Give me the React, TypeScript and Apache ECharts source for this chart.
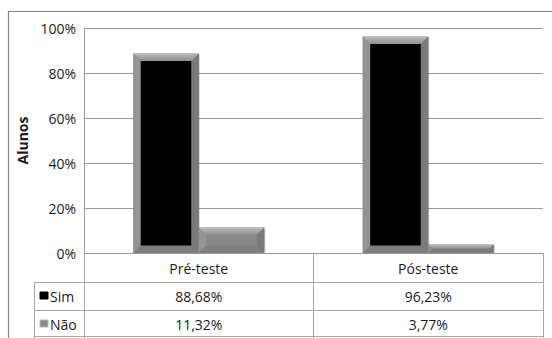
import React, { useEffect, useRef } from "react";
import * as echarts from "echarts";

// Share of students answering "Sim" / "Não", before and after the test
const categories = ["Pré-teste", "Pós-teste"];
const seriesNames = ["Sim", "Não"];
const simValues = [88.68, 96.23];
const naoValues = [11.32, 3.77];
const yMax = 100;
const yInterval = 20;
const axisTitle = "Alunos";

const FONT = "'Open Sans', 'Noto Sans', sans-serif";
const TEXT = "#1c1c1c";
const GRID_LINE = "#9a9a9a";
const TABLE_LINE = "#a8a8a8";

// plot box (px)
const GRID_LEFT = 84;
const GRID_TOP = 28;
const GRID_W = 459;
const GRID_H = 225;
const TABLE_LEFT = 34;
const ROW_H = 28;

const pct = (v: number) => v.toFixed(2).replace(".", ",") + "%";

// bevelled bar, drawn from the axis scales
function bevelBar(slot: number, faceColor: string) {
  return (params: any, api: any) => {
    const idx = api.value(0);
    const val = api.value(1);
    const top = api.coord([idx, val]);
    const base = api.coord([idx, 0]);
    const band = api.size([1, 0])[0];
    const w = band * 0.2855;
    const x0 = top[0] - w + slot * w;
    const x1 = x0 + w;
    const y0 = top[1];
    const y1 = base[1];
    const h = y1 - y0;
    const b = Math.min(7.5, h / 2, w / 2);
    return {
      type: "group",
      children: [
        { type: "rect", shape: { x: x0, y: y0, width: w, height: h }, style: { fill: "#868686" } },
        {
          type: "polygon",
          shape: { points: [[x0, y0], [x1, y0], [x1 - b, y0 + b], [x0 + b, y0 + b]] },
          style: {
            fill: new echarts.graphic.LinearGradient(0, 0, 0, 1, [
              { offset: 0, color: "#bdbdbd" },
              { offset: 1, color: "#8e8e8e" },
            ]),
          },
        },
        {
          type: "polygon",
          shape: { points: [[x0, y0], [x0 + b, y0 + b], [x0 + b, y1 - b], [x0, y1]] },
          style: { fill: "#949494" },
        },
        {
          type: "polygon",
          shape: { points: [[x1, y0], [x1, y1], [x1 - b, y1 - b], [x1 - b, y0 + b]] },
          style: { fill: "#7a7a7a" },
        },
        {
          type: "polygon",
          shape: { points: [[x0, y1], [x0 + b, y1 - b], [x1 - b, y1 - b], [x1, y1]] },
          style: { fill: "#7e7e7e" },
        },
        {
          type: "rect",
          shape: { x: x0 + b, y: y0 + b, width: Math.max(0, w - 2 * b), height: Math.max(0, h - 2 * b) },
          style: { fill: faceColor },
        },
        {
          type: "line",
          shape: { x1: x1 + 0.5, y1: y0 + 1, x2: x1 + 0.5, y2: y1 },
          style: { stroke: "rgba(0,0,0,0.18)", lineWidth: 1 },
        },
      ],
    };
  };
}

export default function App() {
  const ref = useRef<HTMLDivElement>(null);

  useEffect(() => {
    if (!ref.current) return;
    const chart = echarts.init(ref.current, null, { renderer: "svg" });

    const tableBottom = GRID_TOP + GRID_H + ROW_H * 3 + 1;
    const rowY = (r: number) => GRID_TOP + GRID_H + ROW_H * r + 1;

    const keyFills = ["#000000", "#8a8a8a"];
    const legendCells: any[] = seriesNames.map((name, i) => ({
      type: "group",
      children: [
        {
          type: "rect",
          shape: { x: 40, y: rowY(i + 1) + 10, width: 8, height: 7 },
          style: { fill: keyFills[i], stroke: i === 0 ? "#000" : "#b8b8b8", lineWidth: 1 },
        },
        {
          type: "text",
          x: 50,
          y: rowY(i + 1) + 14,
          style: { text: name, font: `14px ${FONT}`, fill: TEXT, verticalAlign: "middle", align: "left" },
        },
      ],
    }));

    chart.setOption({
      animation: false,
      backgroundColor: "#ffffff",
      grid: {
        left: GRID_LEFT,
        top: GRID_TOP,
        width: GRID_W,
        height: GRID_H,
        outerBoundsMode: "none",
      },
      xAxis: {
        type: "category",
        data: categories,
        axisLine: { show: true, lineStyle: { color: GRID_LINE, width: 1 } },
        axisTick: {
          show: true,
          alignWithLabel: false,
          inside: false,
          length: ROW_H * 3 + 2,
          lineStyle: { color: TABLE_LINE, width: 1 },
        },
        axisLabel: {
          margin: 1,
          interval: 0,
          fontFamily: FONT,
          fontSize: 14,
          color: TEXT,
          lineHeight: ROW_H,
          formatter: (value: string, index: number) =>
            `${value}\n${pct(simValues[index])}\n${pct(naoValues[index])}`,
        },
      },
      yAxis: {
        type: "value",
        min: 0,
        max: yMax,
        interval: yInterval,
        name: axisTitle,
        nameLocation: "middle",
        nameRotate: 90,
        nameGap: 55,
        nameTextStyle: { fontFamily: FONT, fontSize: 14, fontWeight: "bold", color: TEXT },
        axisLine: { show: true, lineStyle: { color: GRID_LINE, width: 1 } },
        axisTick: { show: false },
        splitLine: { show: true, lineStyle: { color: GRID_LINE, width: 1 } },
        axisLabel: {
          margin: 8,
          fontFamily: FONT,
          fontSize: 14,
          color: TEXT,
          formatter: (v: number) => `${v}%`,
        },
      },
      series: [
        {
          name: seriesNames[0],
          type: "custom",
          renderItem: bevelBar(0, "#000000"),
          encode: { x: 0, y: 1 },
          data: simValues.map((v, i) => [i, v]),
        },
        {
          name: seriesNames[1],
          type: "custom",
          renderItem: bevelBar(1, "#898989"),
          encode: { x: 0, y: 1 },
          data: naoValues.map((v, i) => [i, v]),
        },
      ],
      graphic: [
        // outer chart frame
        {
          type: "rect",
          shape: { x: 8.5, y: 11.5, width: 600, height: 400 },
          style: { fill: "none", stroke: "#858585", lineWidth: 1.2 },
          silent: true,
        },
        // data table rules
        {
          type: "line",
          shape: { x1: TABLE_LEFT, y1: rowY(1) + 0.5, x2: GRID_LEFT + GRID_W, y2: rowY(1) + 0.5 },
          style: { stroke: TABLE_LINE, lineWidth: 1 },
        },
        {
          type: "line",
          shape: { x1: TABLE_LEFT, y1: rowY(2) + 0.5, x2: GRID_LEFT + GRID_W, y2: rowY(2) + 0.5 },
          style: { stroke: TABLE_LINE, lineWidth: 1 },
        },
        {
          type: "line",
          shape: { x1: TABLE_LEFT, y1: rowY(3) - 1.5, x2: GRID_LEFT + GRID_W, y2: rowY(3) - 1.5 },
          style: { stroke: TABLE_LINE, lineWidth: 1 },
        },
        {
          type: "line",
          shape: { x1: TABLE_LEFT + 0.5, y1: rowY(1), x2: TABLE_LEFT + 0.5, y2: tableBottom },
          style: { stroke: TABLE_LINE, lineWidth: 1 },
        },
        ...legendCells,
      ],
    });

    return () => chart.dispose();
  }, []);

  return (
    <div
      ref={ref}
      style={{ position: "absolute", left: 0, top: 0, width: 552, height: 338, background: "#fff" }}
    />
  );
}
